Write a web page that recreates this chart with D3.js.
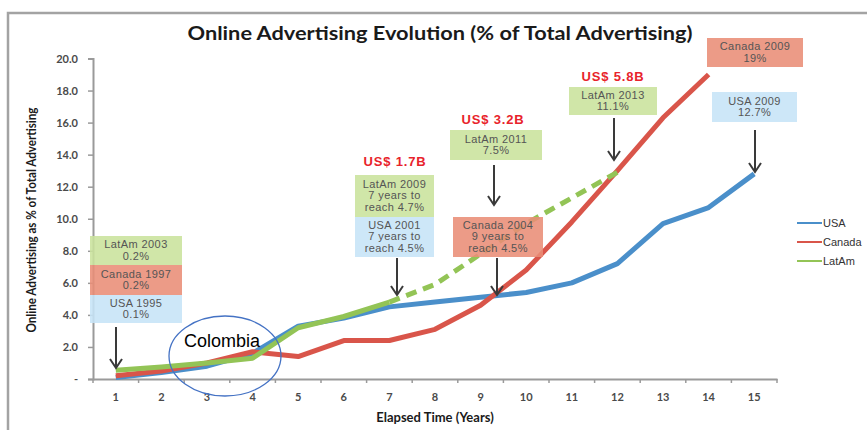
<!DOCTYPE html>
<html>
<head>
<meta charset="utf-8">
<script src="https://cdn.jsdelivr.net/npm/d3@7"></script>
<style>
  body { margin: 0; background: #fff; }
  svg { display: block; }
</style>
</head>
<body>
<svg id="chart" width="867" height="430"></svg>
<script>
// data
var years = [1, 2, 3, 4, 5, 6, 7, 8, 9, 10, 11, 12, 13, 14, 15];
var usa = [0.1, 0.4, 0.8, 1.6, 3.3, 3.8, 4.5, 4.8, 5.1, 5.4, 6.0, 7.2, 9.7, 10.7, 12.8];
var canada = [0.2, 0.5, 1.0, 1.7, 1.4, 2.4, 2.4, 3.1, 4.6, 6.8, 9.8, 13.0, 16.3, 19.0, null];
var latam = [0.55, 0.75, 1.0, 1.3, 3.2, 3.9, 4.8, null, null, null, null, null, null, null, null];
var latamProjection = [null, null, null, null, null, null, 4.8, 5.9, 7.8, 9.7, 11.3, 12.9, null, null, null];
var yTicks = [0, 2, 4, 6, 8, 10, 12, 14, 16, 18, 20];
var seriesNames = ["USA", "Canada", "LatAm"];
var seriesColors = ["#4a8fca", "#d9554a", "#93c456"];

// callout texts
var callouts = [
  { lines: ["LatAm 2003", "0.2%"], kind: "latam" },
  { lines: ["Canada 1997", "0.2%"], kind: "canada" },
  { lines: ["USA 1995", "0.1%"], kind: "usa" },
  { lines: ["LatAm 2009", "7 years to", "reach 4.7%"], kind: "latam" },
  { lines: ["USA 2001", "7 years to", "reach 4.5%"], kind: "usa" },
  { lines: ["LatAm 2011", "7.5%"], kind: "latam" },
  { lines: ["Canada 2004", "9 years to", "reach 4.5%"], kind: "canada" },
  { lines: ["LatAm 2013", "11.1%"], kind: "latam" },
  { lines: ["Canada 2009", "19%"], kind: "canada" },
  { lines: ["USA 2009", "12.7%"], kind: "usa" }
];
var spendLabels = ["US$ 1.7B", "US$ 3.2B", "US$ 5.8B"];

var svg = d3.select("#chart");
var fill = { usa: "#c6e4f7", canada: "#e98d76", latam: "#c9e39c" };

// frame
svg.append("path")
  .attr("d", "M8,430 V13 H867")
  .attr("fill", "none")
  .attr("stroke", "#a3a3a3")
  .attr("stroke-width", 2.5);

var x = d3.scaleBand().domain(years).range([93, 777]).padding(0);
var y = d3.scaleLinear().domain([0, 20]).range([379, 58.5]);
var cx = function (i) { return x(years[i]) + x.bandwidth() / 2; };

// axes
var yAxis = svg.append("g")
  .attr("transform", "translate(93,0)")
  .call(d3.axisLeft(y).tickValues(yTicks).tickSize(5).tickPadding(10)
    .tickFormat(function (d) { return d === 0 ? "-" : d3.format(".1f")(d); }));
var xAxis = svg.append("g")
  .attr("transform", "translate(0,379)")
  .call(d3.axisBottom(x).tickSize(0).tickPadding(14));
// x ticks on category boundaries
xAxis.selectAll(".bound").data(years.concat([16])).enter().append("line")
  .attr("x1", function (d, i) { return 93 + i * x.bandwidth(); })
  .attr("x2", function (d, i) { return 93 + i * x.bandwidth(); })
  .attr("y1", 0).attr("y2", 4)
  .attr("stroke", "#9a9a9a").attr("stroke-width", 1.5);

[yAxis, xAxis].forEach(function (a) {
  a.select(".domain").attr("stroke", "#9a9a9a").attr("stroke-width", 2);
  a.selectAll(".tick line").attr("stroke", "#9a9a9a").attr("stroke-width", 1.5);
  a.selectAll(".tick text")
    .attr("fill", "#4a4a4a")
    .style("font-family", "Lato, 'Liberation Sans', sans-serif")
    .style("font-weight", "bold")
    .style("font-size", "11px");
});

// lines
var line = d3.line()
  .defined(function (d) { return d != null; })
  .x(function (d, i) { return cx(i); })
  .y(function (d) { return y(d); });

[usa, canada, latam].forEach(function (s, k) {
  svg.append("path")
    .datum(s)
    .attr("d", line)
    .attr("fill", "none")
    .attr("stroke", seriesColors[k])
    .attr("stroke-width", 5)
    .attr("stroke-linejoin", "round");
});
svg.append("path")
  .datum(latamProjection)
  .attr("d", line)
  .attr("fill", "none")
  .attr("stroke", seriesColors[2])
  .attr("stroke-width", 5)
  .attr("stroke-dasharray", "11,7");

// callout boxes: [x, y, w, h]
var boxPos = [
  [90, 236, 92, 29], [90, 265, 92, 30], [90, 295, 92, 28],
  [355, 175, 79, 42], [355, 217, 79, 40],
  [450, 130, 92, 30],
  [453, 217, 90, 40],
  [569, 87, 88, 28],
  [707, 38, 96, 29],
  [712, 92, 85, 30]
];
var boxes = svg.append("g").selectAll("g").data(callouts).enter().append("g")
  .attr("transform", function (d, i) { return "translate(" + boxPos[i][0] + "," + boxPos[i][1] + ")"; });
boxes.append("rect")
  .attr("width", function (d, i) { return boxPos[i][2]; })
  .attr("height", function (d, i) { return boxPos[i][3]; })
  .attr("fill", function (d) { return fill[d.kind]; })
  .attr("fill-opacity", 0.88);
boxes.each(function (d, i) {
  var g = d3.select(this);
  var h = boxPos[i][3], n = d.lines.length, lh = 11.3;
  var top = h / 2 - (n * lh) / 2 + 9;
  d.lines.forEach(function (t, j) {
    g.append("text")
      .attr("x", boxPos[i][2] / 2)
      .attr("y", top + j * lh)
      .attr("text-anchor", "middle")
      .attr("fill", "#555")
      .style("font-family", "'Liberation Sans', Arial, sans-serif")
      .style("font-size", "11px")
      .style("letter-spacing", "0.4px")
      .text(t);
  });
});

// spend labels
var spendPos = [[395, 166], [493, 124], [613, 81]];
svg.selectAll(".spend").data(spendLabels).enter().append("text")
  .attr("x", function (d, i) { return spendPos[i][0]; })
  .attr("y", function (d, i) { return spendPos[i][1]; })
  .attr("text-anchor", "middle")
  .attr("fill", "#e8232b")
  .style("font-family", "'Liberation Sans', Arial, sans-serif")
  .style("font-weight", "bold")
  .style("font-size", "13px")
  .style("letter-spacing", "0.8px")
  .text(function (d) { return d; });

// arrows [x, y1, y2]
var arrows = [[116, 327, 368], [397, 258, 295], [494, 165, 205], [497, 258, 295], [614, 118, 160], [755, 130, 172]];
var ag = svg.append("g").attr("stroke", "#3a3a3a").attr("stroke-width", 2).attr("fill", "none");
arrows.forEach(function (a) {
  ag.append("path").attr("d", "M" + a[0] + "," + a[1] + " V" + a[2]);
  ag.append("path").attr("d", "M" + (a[0] - 6) + "," + (a[2] - 9) + " L" + a[0] + "," + a[2] + " L" + (a[0] + 6) + "," + (a[2] - 9));
});

// legend
var legend = svg.append("g").selectAll("g").data(seriesNames).enter().append("g")
  .attr("transform", function (d, i) { return "translate(797," + [223, 242, 261][i] + ")"; });
legend.append("line").attr("x1", 0).attr("x2", 25)
  .attr("stroke", function (d, i) { return seriesColors[i]; }).attr("stroke-width", 2);
legend.append("text").attr("x", 26).attr("y", 4)
  .attr("fill", "#333")
  .style("font-family", "'Liberation Sans', Arial, sans-serif")
  .style("font-size", "11px")
  .text(function (d) { return d; });

// titles
svg.append("text")
  .attr("x", 440).attr("y", 40)
  .attr("text-anchor", "middle")
  .attr("textLength", 505).attr("lengthAdjust", "spacingAndGlyphs")
  .attr("fill", "#1a1a1a")
  .style("font-family", "Lato, sans-serif")
  .style("font-weight", "bold")
  .style("font-size", "18px")
  .text("Online Advertising Evolution (% of Total Advertising)");
svg.append("text")
  .attr("transform", "translate(36,220) rotate(-90)")
  .attr("text-anchor", "middle")
  .attr("textLength", 225).attr("lengthAdjust", "spacingAndGlyphs")
  .attr("fill", "#1a1a1a")
  .style("font-family", "Lato, sans-serif")
  .style("font-weight", "bold")
  .style("font-size", "13px")
  .text("Online Advertising as % of Total Advertising");
svg.append("text")
  .attr("x", 435).attr("y", 422)
  .attr("text-anchor", "middle")
  .attr("fill", "#1a1a1a")
  .style("font-family", "Lato, sans-serif")
  .style("font-weight", "bold")
  .style("font-size", "13px")
  .text("Elapsed Time (Years)");

// Colombia highlight
svg.append("ellipse")
  .attr("cx", 225).attr("cy", 356).attr("rx", 56).attr("ry", 40)
  .attr("fill", "none").attr("stroke", "#4472c4").attr("stroke-width", 1.3);
svg.append("text")
  .attr("x", 184).attr("y", 347)
  .attr("fill", "#000")
  .style("font-family", "'Liberation Sans', Arial, sans-serif")
  .style("font-size", "18px")
  .text("Colombia");
</script>
</body>
</html>
